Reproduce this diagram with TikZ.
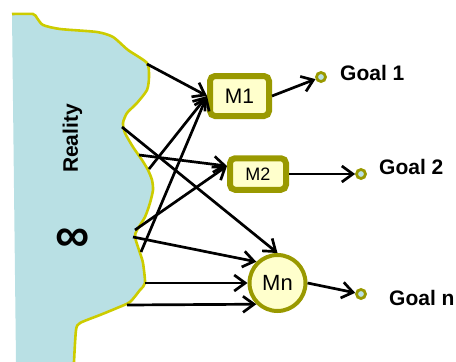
\documentclass[tikz,border=0pt]{standalone}
\usepackage{fontspec}
\setmainfont{Liberation Sans}
\usetikzlibrary{arrows.meta,positioning}
\definecolor{sea}{RGB}{185,224,228}
\definecolor{coast}{RGB}{204,204,0}
\definecolor{modelrim}{RGB}{153,153,0}
\definecolor{modelfill}{RGB}{255,255,204}
\begin{document}
\begin{tikzpicture}
  [
    x=1pt, y=-1pt,
    arr/.style={draw=black, line width=2.7pt, -{Straight Barb[length=11pt,width=16pt]}},
    model/.style={draw=modelrim, line width=6pt, fill=modelfill, rounded corners=5pt,
      inner sep=0pt, font=\fontsize{21}{25}\selectfont},
    goal/.style={circle, draw=modelrim, line width=2.8pt, fill=sea, minimum size=9pt, inner sep=0pt},
    goaltext/.style={anchor=west, inner sep=0pt, font=\bfseries\fontsize{21}{25}\selectfont}
  ]
  \useasboundingbox (0,0) rectangle (456,362);
  % reality
  \fill[sea] plot[smooth, tension=0.4] coordinates {(12,14) (33,14) (37,18) (43,25) (60,29) (97,32)
    (113,37) (128,50) (147,63) (149,77) (147,90) (137,103) (127,113) (123,123) (125,133) (133,147)
    (142,160) (148,170) (152,180) (153,190) (150,203) (145,217) (137,230) (135,237) (140,253)
    (143,263) (145,283) (140,290) (130,302) (117,308) (100,315) (80,323) (76,330) (74,362)}
    -- (16,362) -- cycle;
  \draw[coast, line width=2.6pt] plot[smooth, tension=0.4] coordinates {(12,14) (33,14) (37,18) (43,25) (60,29) (97,32)
    (113,37) (128,50) (147,63) (149,77) (147,90) (137,103) (127,113) (123,123) (125,133) (133,147)
    (142,160) (148,170) (152,180) (153,190) (150,203) (145,217) (137,230) (135,237) (140,253)
    (143,263) (145,283) (140,290) (130,302) (117,308) (100,315) (80,323) (76,330) (74,362)};
  \node [rotate=90, font=\bfseries\fontsize{21}{25}\selectfont] (reality) at (72.5,138.5) {Reality};
  \node [font=\bfseries\fontsize{48}{48}\selectfont] (inf) at (73,240) {∞};
  % points on the coast
  \foreach \n/\x/\y in {r1/147/64, r2/122/127, r3/139/155, r4/149/169, r5/135/230,
      r6/133/237, r7/141/252, r8/145/283, r9/127/305} {
    \coordinate (\n) at (\x,\y);
  }
  % models
  \node [model, minimum width=59pt, minimum height=40pt] (M1) at (239.5,96) {M1};
  \node [model, minimum width=56pt, minimum height=31.5pt, font=\fontsize{18}{21}\selectfont]
    (M2) at (258,174) {M2};
  \node [circle, draw=modelrim, line width=4pt, fill=modelfill, minimum size=56pt, inner sep=0pt,
    font=\fontsize{22}{26}\selectfont] (Mn) at (277.5,283) {Mn};
  \coordinate (M2in) at ([yshift=8pt]M2.west);
  % goals
  \node [goal] (g1) at (321,77) {};
  \node [goal] (g2) at (361,174) {};
  \node [goal] (gn) at (361,294) {};
  \node [goaltext] (t1) at (340,73) {Goal 1};
  \node [goaltext] (t2) at (379,167) {Goal 2};
  \node [goaltext] (tn) at (389,298) {Goal n};
  % arrows
  \foreach \s/\t in {r1/M1.west, r4/M1.west, r7/M1.west, r3/M2in, r5/M2in,
      r2/Mn.north, r6/Mn.north west, r8/Mn.west, r9/Mn.south west,
      M1.east/g1, M2.east/g2, Mn.east/gn} {
    \draw [arr] (\s) -- (\t);
  }
\end{tikzpicture}
\end{document}
